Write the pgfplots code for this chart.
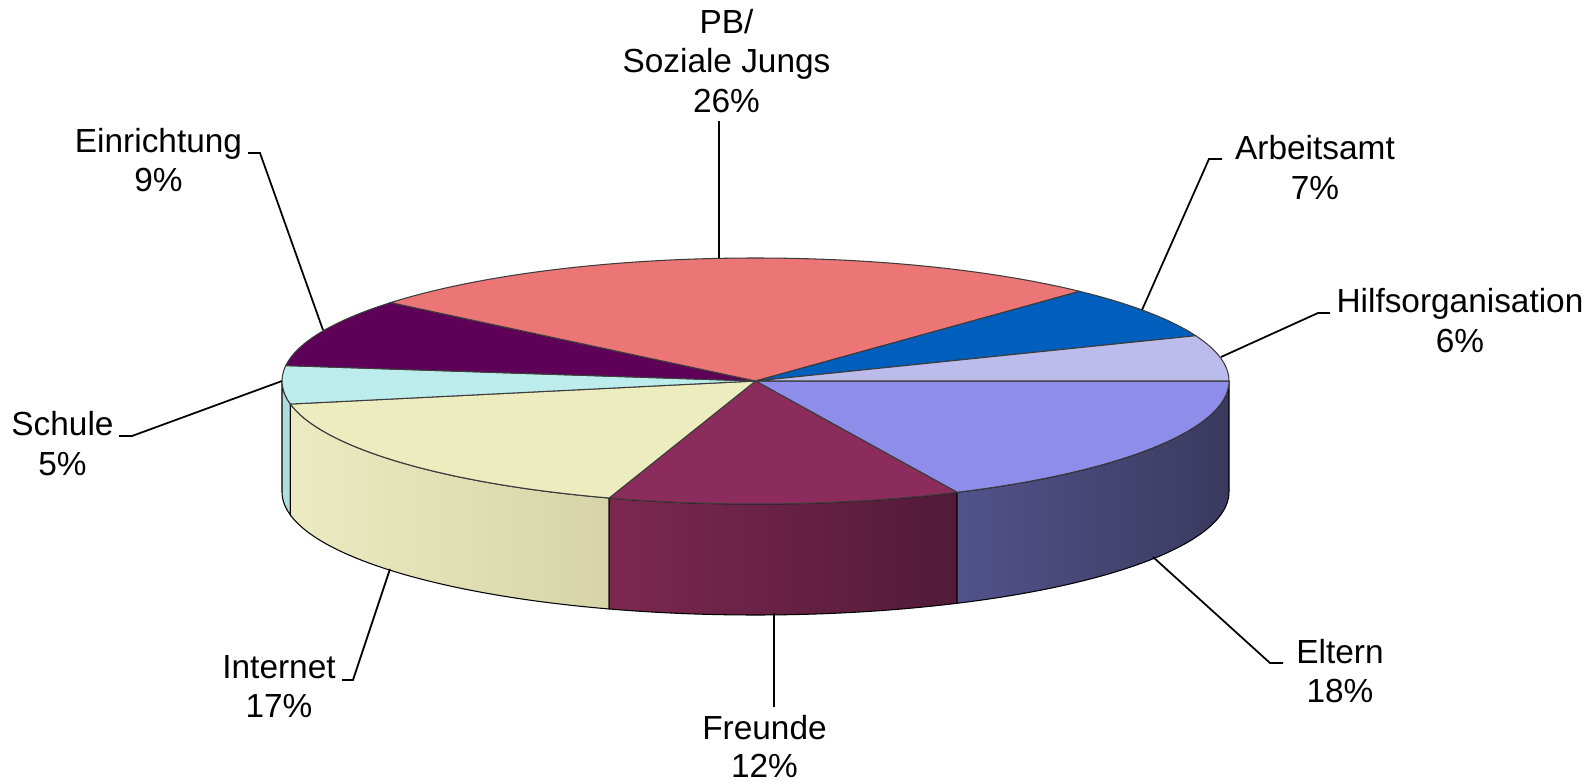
\documentclass[border=0pt]{standalone}
\usepackage{pgfplots}
\pgfplotsset{compat=1.18}
\usepackage{fontspec}
\setmainfont{Liberation Sans}

\definecolor{cPB}{RGB}{236,118,118}
\definecolor{cArb}{RGB}{0,94,188}
\definecolor{cHilf}{RGB}{187,187,236}
\definecolor{cElt}{RGB}{142,142,234}
\definecolor{cEltL}{RGB}{82,82,140}
\definecolor{cEltM}{RGB}{63,63,103}
\definecolor{cEltR}{RGB}{58,58,95}
\definecolor{cFre}{RGB}{140,44,92}
\definecolor{cFreL}{RGB}{123,40,80}
\definecolor{cFreR}{RGB}{82,26,56}
\definecolor{cInt}{RGB}{237,236,190}
\definecolor{cIntL}{RGB}{236,234,192}
\definecolor{cIntR}{RGB}{214,212,168}
\definecolor{cSch}{RGB}{189,236,236}
\definecolor{cSchS}{RGB}{175,220,220}
\definecolor{cEin}{RGB}{94,0,88}
\definecolor{edgegray}{RGB}{60,60,60}

% data (percent)
\def\pEltern{18}
\def\pFreunde{12}
\def\pInternet{17}
\def\pSchule{5}
\def\pEinrichtung{9}
\def\pPB{26}
\def\pArbeitsamt{7}
\def\pHilfs{6}
% cumulative angles, clockwise from 0 deg
\pgfmathsetmacro\tA{-3.6*\pEltern}
\pgfmathsetmacro\tB{\tA-3.6*\pFreunde}
\pgfmathsetmacro\tC{\tB-3.6*\pInternet}
\pgfmathsetmacro\tD{\tC-3.6*\pSchule}
\pgfmathsetmacro\tE{\tD-3.6*\pEinrichtung}
\pgfmathsetmacro\tF{\tE-3.6*\pPB}
\pgfmathsetmacro\tG{\tF-3.6*\pArbeitsamt}
\pgfmathsetmacro\tH{\tG-3.6*\pHilfs}

\newcommand\topslice[3]{%
  \filldraw[fill=#1, draw=edgegray, line width=0.3pt]
    (axis cs:755.5,400) -- ([shift={(#2:4.735cm and 1.23cm)}]axis cs:755.5,400)
    arc[start angle=#2, end angle=#3, x radius=4.735cm, y radius=1.23cm] -- cycle;}
\newcommand\sideslice[3]{%
  \shadedraw[#1, draw=black, line width=0.3pt]
    ([shift={(#2:4.735cm and 1.23cm)}]axis cs:755.5,400)
    arc[start angle=#2, end angle=#3, x radius=4.735cm, y radius=1.23cm]
    -- ++(0,-1.11cm)
    arc[start angle=#3, end angle=#2, x radius=4.735cm, y radius=1.23cm] -- cycle;}
\newcommand\lbl{\fontsize{9.5}{11}\selectfont}

\begin{document}
\begin{tikzpicture}
\begin{axis}[hide axis, scale only axis, width=15.95cm, height=7.81cm,
  xmin=0, xmax=1595, ymin=0, ymax=781, clip=false]
\path (axis cs:0,0) rectangle (axis cs:1595,781);
% sides (front)
\sideslice{left color=cSchS, right color=cSchS}{-180}{\tC}
\sideslice{left color=cIntL, right color=cIntR}{\tC}{\tB}
\sideslice{left color=cFreL, right color=cFreR}{\tB}{\tA}
\sideslice{left color=cEltL, middle color=cEltM, right color=cEltR}{\tA}{0}
% top faces
\topslice{cElt}{0}{\tA}
\topslice{cFre}{\tA}{\tB}
\topslice{cInt}{\tB}{\tC}
\topslice{cSch}{\tC}{\tD}
\topslice{cEin}{\tD}{\tE}
\topslice{cPB}{\tE}{\tF}
\topslice{cArb}{\tF}{\tG}
\topslice{cHilf}{\tG}{\tH}
% leader lines
\draw[black, line width=0.5pt] (axis cs:719,660) -- (axis cs:719,523);
\draw[black, line width=0.5pt] (axis cs:1222,622) -- (axis cs:1209,622) -- (axis cs:1142,471);
\draw[black, line width=0.5pt] (axis cs:1330,468) -- (axis cs:1318,468) -- (axis cs:1221,424);
\draw[black, line width=0.5pt] (axis cs:119,345) -- (axis cs:132,345) -- (axis cs:282,400);
\draw[black, line width=0.5pt] (axis cs:1283,118) -- (axis cs:1270,118) -- (axis cs:1153,224);
\draw[black, line width=0.5pt] (axis cs:774,168) -- (axis cs:774,74);
\draw[black, line width=0.5pt] (axis cs:342,101) -- (axis cs:353,101) -- (axis cs:390,212);
\draw[black, line width=0.5pt] (axis cs:248,628) -- (axis cs:260,628) -- (axis cs:323,451);
% labels
\tikzset{lab/.style={anchor=base, inner sep=0pt, font=\lbl}}
\node[lab] at (axis cs:726.5,747) {PB/};
\node[lab] at (axis cs:726.5,708) {Soziale Jungs};
\node[lab] at (axis cs:726.5,668) {26\%};
\node[lab] at (axis cs:1315,621) {Arbeitsamt};
\node[lab] at (axis cs:1315,582) {7\%};
\node[lab] at (axis cs:1460,468) {Hilfsorganisation};
\node[lab] at (axis cs:1460,429) {6\%};
\node[lab] at (axis cs:62.5,346) {Schule};
\node[lab] at (axis cs:62.5,306) {5\%};
\node[lab] at (axis cs:1340,118) {Eltern};
\node[lab] at (axis cs:1340,79) {18\%};
\node[lab] at (axis cs:764.5,42) {Freunde};
\node[lab] at (axis cs:764.5,4) {12\%};
\node[lab] at (axis cs:279,103) {Internet};
\node[lab] at (axis cs:279,64) {17\%};
\node[lab] at (axis cs:158.5,628) {Einrichtung};
\node[lab] at (axis cs:158.5,589) {9\%};
\end{axis}
\end{tikzpicture}
\end{document}
